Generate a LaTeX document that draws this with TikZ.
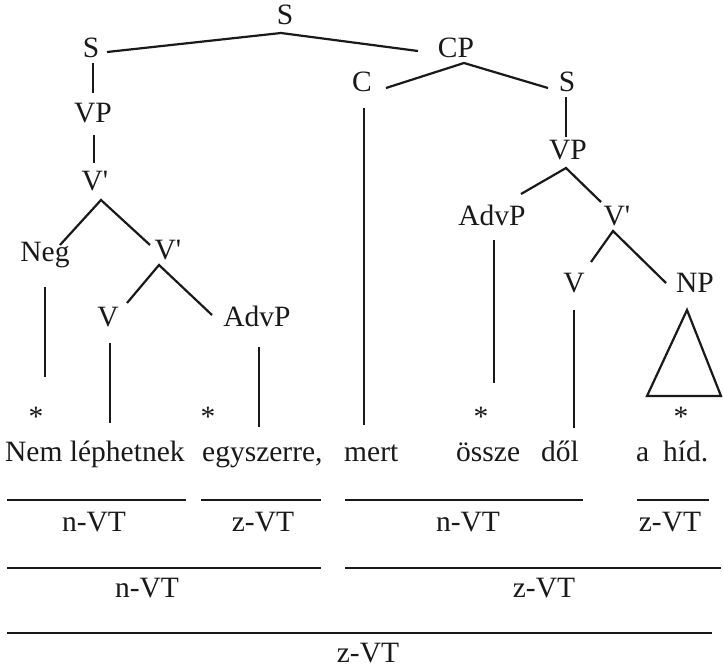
\documentclass[tikz,border=0pt]{standalone}
\usepackage{fontspec}
\setmainfont{Liberation Serif}
\definecolor{ink}{RGB}{25,25,25}
\begin{document}
\begin{tikzpicture}[x=1pt,y=-1pt,
  lab/.style={anchor=base, inner sep=0pt, font=\fontsize{29.5}{29.5}\selectfont, text=ink},
  word/.style={lab, anchor=base west},
  edge/.style={draw=ink, line width=2.2pt},
  rule/.style={draw=ink, line width=1.3pt}]
\useasboundingbox (0,0) rectangle (723,667);
% tree labels
\node[lab] (S0) at (285,24) {S};
\node[lab] (S1) at (91,57) {S};
\node[lab] (CP) at (456,57) {CP};
\node[lab] (C) at (362,91) {C};
\node[lab] (S2) at (567,91) {S};
\node[lab] (VP1) at (93,122) {VP};
\node[lab] (V1) at (95,190) {V\textquotesingle};
\node[lab] (VP2) at (568,159) {VP};
\node[lab] (Adv2) at (492,225) {AdvP};
\node[lab] (V2) at (617,225) {V\textquotesingle};
\node[lab] (Neg) at (45,261) {Neg};
\node[lab] (V3) at (168,259) {V\textquotesingle};
\node[lab] (Vl) at (108,326) {V};
\node[lab] (Adv1) at (257,326) {AdvP};
\node[lab] (Vr) at (574,292) {V};
\node[lab] (NP) at (695,292) {NP};
% asterisks
\node[lab] (a1) at (36,426) {*};
\node[lab] (a2) at (208,426) {*};
\node[lab] (a3) at (481,426) {*};
\node[lab] (a4) at (681,426) {*};
% sentence
\node[word] (w1) at (5,461) {Nem léphetnek};
\node[word] (w2) at (202,461) {egyszerre,};
\node[word] (w3) at (344,461) {mert};
\node[word] (w4) at (456,461) {össze};
\node[word] (w5) at (541,461) {dől};
\node[word] (w6) at (636,461) {a};
\node[word] (w7) at (663,461) {híd.};
% edge coordinates
\coordinate (s0v) at (281,33);
\coordinate (s0l) at (107,52);
\coordinate (s0r) at (418,51);
\coordinate (cpv) at (464,63);
\coordinate (cpl) at (386,88);
\coordinate (cpr) at (548,88);
\coordinate (s1a) at (93,63);
\coordinate (s1b) at (93,93);
\coordinate (vp1a) at (94,135);
\coordinate (vp1b) at (94,163);
\coordinate (v1v) at (101,200);
\coordinate (v1l) at (60,245);
\coordinate (v1r) at (150,245);
\coordinate (s2a) at (566,97);
\coordinate (s2b) at (566,137);
\coordinate (vp2v) at (566,168);
\coordinate (vp2l) at (521,194);
\coordinate (vp2r) at (601,202);
\coordinate (v3v) at (159,265);
\coordinate (v3l) at (127,303);
\coordinate (v3r) at (212,315);
\coordinate (v2v) at (613,231);
\coordinate (v2l) at (591,262);
\coordinate (v2r) at (666,283);
\coordinate (nega) at (45,287);
\coordinate (negb) at (45,377);
\coordinate (vla) at (110,343);
\coordinate (vlb) at (110,423);
\coordinate (adv1a) at (259,347);
\coordinate (adv1b) at (259,427);
\coordinate (ca) at (364,108);
\coordinate (cb) at (364,425);
\coordinate (adv2a) at (494,240);
\coordinate (adv2b) at (494,383);
\coordinate (vra) at (574,310);
\coordinate (vrb) at (574,428);
\coordinate (npt) at (687,310);
\coordinate (npl) at (647,396);
\coordinate (npr) at (721,396);
% edges
\draw[edge] (s0l) -- (s0v) -- (s0r);
\draw[edge] (cpl) -- (cpv) -- (cpr);
\draw[edge] (s1a) -- (s1b);
\draw[edge] (vp1a) -- (vp1b);
\draw[edge] (v1l) -- (v1v) -- (v1r);
\draw[edge] (s2a) -- (s2b);
\draw[edge] (vp2l) -- (vp2v) -- (vp2r);
\draw[edge] (v3l) -- (v3v) -- (v3r);
\draw[edge] (v2l) -- (v2v) -- (v2r);
\draw[edge] (nega) -- (negb);
\draw[edge] (vla) -- (vlb);
\draw[edge] (adv1a) -- (adv1b);
\draw[edge] (ca) -- (cb);
\draw[edge] (adv2a) -- (adv2b);
\draw[edge] (vra) -- (vrb);
\draw[edge, line join=miter] (npt) -- (npl) -- (npr) -- cycle;
% bracket rules
\coordinate (r1a) at (7,500);   \coordinate (r1b) at (186,500);
\coordinate (r1c) at (201,500); \coordinate (r1d) at (321,500);
\coordinate (r1e) at (345,500); \coordinate (r1f) at (583,500);
\coordinate (r1g) at (637,500); \coordinate (r1h) at (709,500);
\coordinate (r2a) at (7,568);   \coordinate (r2b) at (321,568);
\coordinate (r2c) at (345,568); \coordinate (r2d) at (721,568);
\coordinate (r3a) at (7,633);   \coordinate (r3b) at (712,633);
\draw[rule] (r1a) -- (r1b);
\draw[rule] (r1c) -- (r1d);
\draw[rule] (r1e) -- (r1f);
\draw[rule] (r1g) -- (r1h);
\draw[rule] (r2a) -- (r2b);
\draw[rule] (r2c) -- (r2d);
\draw[rule] (r3a) -- (r3b);
\node[lab] (l11) at (94,531) {n-VT};
\node[lab] (l12) at (263,531) {z-VT};
\node[lab] (l13) at (468,531) {n-VT};
\node[lab] (l14) at (670,531) {z-VT};
\node[lab] (l21) at (147,597) {n-VT};
\node[lab] (l22) at (544,597) {z-VT};
\node[lab] (l31) at (368,662) {z-VT};
\end{tikzpicture}
\end{document}
